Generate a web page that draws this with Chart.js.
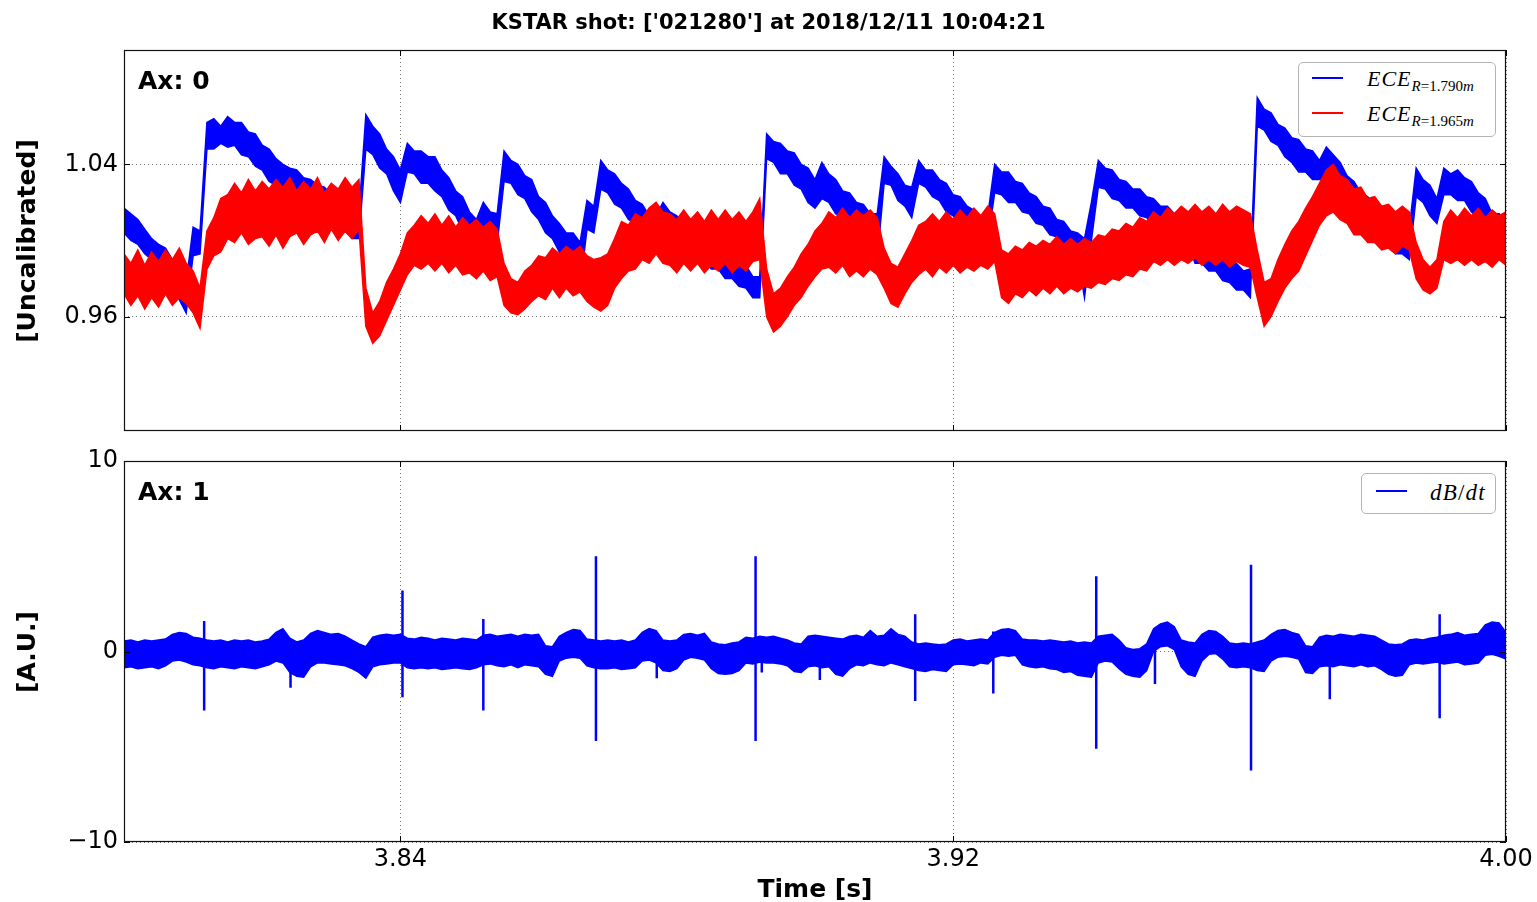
<!DOCTYPE html>
<html>
<head>
<meta charset="utf-8">
<script src="https://cdn.jsdelivr.net/npm/chart.js@4.4.1/dist/chart.umd.min.js"></script>
<style>
html,body{margin:0;padding:0;background:#fff;}
#wrap{position:relative;width:1537px;height:902px;overflow:hidden;background:#fff;}
canvas{position:absolute;left:0;top:0;}
.t{position:absolute;white-space:nowrap;color:#000;font-family:'DejaVu Sans',sans-serif;}
.b{font-weight:bold;}
.m{font-family:'Liberation Serif',serif;font-style:italic;}
.box{position:absolute;box-sizing:border-box;background:#fff;border:1px solid #b4b4b4;border-radius:5px;}
.ln{position:absolute;height:2px;}
</style>
</head>
<body>
<div id="wrap">
<canvas id="c1" width="1537" height="902"></canvas>
<canvas id="c2" width="1537" height="902"></canvas>

<div class="t b" style="left:0;width:1537px;text-align:center;top:12.2px;font-size:21px;line-height:21px;">KSTAR shot: ['021280'] at 2018/12/11 10:04:21</div>
<div class="t b" style="left:138px;top:68.4px;font-size:25px;line-height:25px;">Ax: 0</div>
<div class="t b" style="left:138px;top:478.9px;font-size:25px;line-height:25px;">Ax: 1</div>
<div class="t b" style="left:26.4px;top:240.5px;font-size:25px;line-height:25px;transform:translate(-50%,-50%) rotate(-90deg);">[Uncalibrated]</div>
<div class="t b" style="left:26.4px;top:651.5px;font-size:25px;line-height:25px;transform:translate(-50%,-50%) rotate(-90deg);">[A.U.]</div>
<div class="t b" style="left:815px;top:875.9px;font-size:25px;line-height:25px;transform:translateX(-50%);">Time [s]</div>

<div class="box" style="left:1298px;top:62px;width:198px;height:75px;"></div>
<div class="ln" id="lg0" style="left:1312px;top:77px;width:31px;"></div>
<div class="ln" id="lg1" style="left:1312px;top:112px;width:31px;"></div>
<div class="t m" id="lt0" style="left:1367px;top:68.3px;font-size:22px;line-height:22px;letter-spacing:1px;"></div>
<div class="t m" id="lt1" style="left:1367px;top:103.3px;font-size:22px;line-height:22px;letter-spacing:1px;"></div>

<div class="box" style="left:1361px;top:473px;width:135px;height:41px;"></div>
<div class="ln" id="lg2" style="left:1376px;top:490px;width:31px;"></div>
<div class="t m" id="lt2" style="left:1430px;top:480.7px;font-size:23px;line-height:23px;letter-spacing:1.2px;"></div>
</div>

<script>
// ---------------- data ----------------
const timeStartMs = 3800;          // first sample, ms
const sampleStepMs = 1;            // envelope samples every 1 ms

const xTicks = [3.84, 3.92, 4.00];
const xTickLabels = ['3.84', '3.92', '4.00'];
const yTopTicks = [0.96, 1.04];
const yTopTickLabels = ['0.96', '1.04'];
const yBottomTicks = [-10, 0, 10];
const yBottomTickLabels = ['\u221210', '0', '10'];

const seriesColors = ['#0000ff', '#ff0000', '#0000ff'];
const seriesRadius = ['1.790', '1.965'];

// ECE R=1.790 m : upper / lower edge of the noisy trace
const eceInnerHi = [
1.017,1.014,1.011,1.006,1.001,0.998,0.996,0.990,0.984,0.978,
1.007,1.005,1.062,1.064,1.060,1.065,1.062,1.062,1.057,1.056,
1.050,1.048,1.043,1.040,1.038,1.037,1.033,1.032,1.029,1.028,
1.024,1.022,1.018,1.018,1.014,1.066,1.060,1.056,1.048,1.044,
1.037,1.051,1.047,1.047,1.044,1.044,1.037,1.033,1.026,1.023,
1.015,1.011,1.020,1.015,1.014,1.047,1.042,1.040,1.034,1.032,
1.023,1.020,1.013,1.009,1.004,1.004,0.999,1.021,1.018,1.042,
1.037,1.035,1.030,1.027,1.021,1.019,1.013,1.013,1.020,1.015,
1.013,1.008,1.008,1.004,1.004,1.000,0.999,0.994,0.994,0.989,
0.987,0.981,0.981,1.056,1.052,1.051,1.047,1.046,1.040,1.038,
1.032,1.041,1.035,1.032,1.026,1.025,1.020,1.019,1.014,1.014,
1.044,1.039,1.035,1.029,1.028,1.042,1.037,1.037,1.032,1.030,
1.024,1.023,1.018,1.016,1.012,1.013,1.040,1.036,1.036,1.031,
1.030,1.025,1.023,1.018,1.017,1.011,1.010,1.005,1.004,1.001,
1.020,1.042,1.038,1.037,1.032,1.031,1.027,1.027,1.023,1.022,
1.018,1.018,1.014,1.017,1.013,1.004,1.000,1.000,0.995,0.994,
0.989,0.988,0.984,0.985,1.075,1.069,1.067,1.061,1.059,1.054,
1.053,1.048,1.047,1.042,1.049,1.045,1.041,1.034,1.031,1.025,
1.023,1.017,1.015,1.009,1.009,1.005,1.006,1.038,1.032,1.029,
1.022,1.038,1.035,1.037,1.033,1.031,1.025,1.022,1.014,1.014,
1.010];
const eceInnerLo = [
1.004,1.000,0.998,0.993,0.990,0.985,0.984,0.975,0.969,0.962,
0.992,0.993,1.048,1.048,1.051,1.049,1.050,1.045,1.044,1.039,
1.037,1.031,1.029,1.025,1.025,1.021,1.021,1.016,1.015,1.011,
1.010,1.005,1.005,1.001,1.001,1.048,1.045,1.038,1.035,1.026,
1.020,1.036,1.035,1.030,1.030,1.026,1.023,1.016,1.013,1.005,
1.001,0.996,1.003,0.999,0.998,1.031,1.030,1.024,1.022,1.015,
1.011,1.004,1.001,0.994,0.992,0.988,0.975,1.006,1.004,1.027,
1.025,1.019,1.017,1.011,1.009,1.003,1.002,0.998,1.006,1.002,
1.000,0.995,0.994,0.989,0.989,0.985,0.985,0.980,0.980,0.976,
0.975,0.970,0.970,1.043,1.041,1.035,1.035,1.029,1.027,1.020,
1.017,1.022,1.020,1.014,1.013,1.008,1.008,1.003,1.003,0.990,
1.030,1.029,1.021,1.018,1.012,1.030,1.028,1.023,1.021,1.015,
1.013,1.008,1.007,1.002,1.002,0.999,1.025,1.024,1.020,1.020,
1.015,1.014,1.009,1.008,1.003,1.002,0.997,0.996,0.992,0.970,
1.000,1.028,1.027,1.022,1.021,1.017,1.017,1.013,1.012,1.007,
1.006,1.002,1.003,0.999,0.998,0.988,0.988,0.984,0.984,0.979,
0.978,0.974,0.974,0.970,1.060,1.058,1.052,1.050,1.044,1.041,
1.036,1.036,1.032,1.032,1.033,1.031,1.022,1.018,1.011,1.010,
1.005,1.003,0.998,0.997,0.993,0.993,0.990,1.023,1.020,1.013,
1.009,1.024,1.024,1.021,1.021,1.015,1.012,1.005,1.003,0.999,
1.000];

// ECE R=1.965 m : upper / lower edge of the noisy trace
const eceOuterHi = [
0.993,0.988,0.995,0.987,0.994,0.989,0.995,0.990,0.996,0.988,
0.984,0.975,1.005,1.012,1.022,1.024,1.030,1.025,1.032,1.026,
1.031,1.027,1.032,1.028,1.033,1.026,1.031,1.027,1.033,1.025,
1.030,1.027,1.033,1.028,1.032,0.975,0.962,0.968,0.978,0.985,
0.993,1.004,1.008,1.013,1.009,1.014,1.008,1.013,1.007,1.012,
1.008,1.011,1.007,1.010,1.006,0.988,0.980,0.978,0.984,0.987,
0.992,0.991,0.996,0.993,0.997,0.994,0.997,0.992,0.990,0.991,
0.993,1.001,1.010,1.008,1.014,1.012,1.017,1.020,1.015,1.014,
1.011,1.016,1.011,1.015,1.010,1.016,1.011,1.016,1.011,1.015,
1.010,1.015,1.022,0.985,0.972,0.975,0.981,0.986,0.993,0.998,
1.005,1.009,1.015,1.012,1.017,1.012,1.016,1.013,1.016,1.012,
0.996,0.988,0.986,0.993,1.000,1.008,1.010,1.014,1.010,1.015,
1.011,1.016,1.012,1.017,1.013,1.018,1.014,0.995,0.993,0.997,
0.995,0.999,0.997,1.000,0.998,1.002,0.998,1.001,0.998,1.001,
0.999,1.003,1.002,1.006,1.005,1.009,1.007,1.012,1.010,1.015,
1.012,1.017,1.014,1.018,1.015,1.019,1.015,1.018,1.014,1.019,
1.015,1.018,1.016,1.014,0.995,0.978,0.980,0.990,0.998,1.005,
1.010,1.017,1.023,1.030,1.037,1.040,1.034,1.032,1.027,1.028,
1.022,1.023,1.018,1.019,1.015,1.018,1.015,0.999,0.990,0.986,
0.990,1.010,1.016,1.012,1.017,1.013,1.017,1.012,1.016,1.013,
1.015];
const eceOuterLo = [
0.972,0.966,0.971,0.964,0.970,0.965,0.972,0.966,0.970,0.967,
0.962,0.954,0.985,0.992,0.994,1.001,0.999,1.004,0.998,1.001,
1.002,0.997,1.003,0.996,1.002,1.004,0.998,1.003,1.005,0.999,
1.006,1.000,1.005,1.001,1.006,0.955,0.946,0.950,0.958,0.966,
0.974,0.982,0.987,0.985,0.988,0.984,0.988,0.983,0.987,0.982,
0.983,0.980,0.984,0.979,0.981,0.966,0.962,0.961,0.964,0.968,
0.971,0.969,0.975,0.970,0.975,0.971,0.973,0.968,0.965,0.963,
0.966,0.975,0.980,0.984,0.985,0.990,0.988,0.993,0.988,0.987,
0.983,0.988,0.984,0.988,0.983,0.987,0.984,0.988,0.983,0.987,
0.984,0.989,0.990,0.960,0.952,0.955,0.960,0.966,0.970,0.976,
0.981,0.985,0.986,0.983,0.987,0.981,0.984,0.981,0.985,0.982,
0.975,0.967,0.965,0.972,0.978,0.982,0.985,0.981,0.986,0.983,
0.987,0.983,0.986,0.984,0.987,0.985,0.989,0.970,0.967,0.972,
0.970,0.974,0.971,0.975,0.972,0.976,0.972,0.975,0.973,0.976,
0.975,0.978,0.977,0.980,0.979,0.982,0.981,0.985,0.984,0.989,
0.987,0.990,0.987,0.990,0.988,0.991,0.987,0.990,0.987,0.990,
0.986,0.989,0.987,0.986,0.970,0.955,0.960,0.968,0.975,0.980,
0.984,0.992,1.000,1.008,1.013,1.015,1.011,1.009,1.003,1.003,
0.999,0.999,0.995,0.996,0.993,0.997,0.995,0.980,0.974,0.972,
0.975,0.990,0.988,0.990,0.987,0.990,0.987,0.989,0.986,0.990,
0.987];

// dB/dt : upper / lower edge of the noisy trace
const dbdtHi = [
0.55,0.60,0.50,0.60,0.55,0.60,0.65,0.90,1.00,0.95,
0.75,0.70,0.60,0.55,0.60,0.50,0.60,0.55,0.60,0.50,
0.55,0.65,1.00,1.20,0.70,0.50,0.60,0.95,1.10,1.00,
0.90,0.95,0.80,0.60,0.40,0.25,0.75,0.85,0.90,0.85,
0.90,0.70,0.65,0.75,0.70,0.60,0.70,0.65,0.60,0.70,
0.65,0.60,0.85,0.90,0.80,0.85,0.90,0.80,0.90,0.85,
0.90,0.30,0.25,0.80,1.00,1.15,1.10,0.65,0.60,0.55,
0.60,0.55,0.60,0.50,0.60,1.00,1.20,1.10,0.60,0.55,
0.60,0.90,0.95,0.85,0.95,0.50,0.40,0.35,0.45,0.50,
0.75,0.70,0.80,0.75,0.80,0.70,0.60,0.45,0.40,0.80,
0.85,0.80,0.75,0.70,0.65,0.80,0.85,0.75,1.10,0.80,
0.85,1.20,0.90,0.80,0.50,0.40,0.45,0.40,0.35,0.40,
0.60,0.65,0.55,0.60,0.65,0.60,1.00,1.15,1.20,1.10,
0.65,0.60,0.60,0.55,0.60,0.55,0.50,0.55,0.45,0.50,
0.45,0.80,0.85,0.90,0.60,0.20,0.10,0.15,0.40,1.20,
1.45,1.55,1.30,0.60,0.50,0.45,0.90,1.10,1.05,0.80,
0.45,0.40,0.45,0.40,0.50,0.60,0.90,1.10,1.15,1.00,
0.90,0.30,0.25,0.75,0.85,0.80,0.90,0.85,0.80,0.90,
0.85,0.80,0.60,0.40,0.35,0.40,0.60,0.65,0.60,0.70,
0.75,0.85,0.90,1.00,0.85,0.90,0.95,1.40,1.55,1.50,
1.00];
const dbdtLo = [
-0.85,-0.80,-0.90,-0.85,-0.80,-0.90,-0.75,-0.50,-0.45,-0.55,
-0.70,-0.75,-0.85,-0.90,-0.80,-0.85,-0.90,-0.80,-0.85,-0.90,
-0.80,-0.70,-0.50,-0.60,-1.10,-1.30,-1.35,-0.80,-0.60,-0.60,
-0.65,-0.70,-0.75,-0.90,-1.10,-1.40,-0.80,-0.70,-0.65,-0.60,
-0.60,-0.85,-0.90,-0.85,-0.90,-0.85,-0.95,-0.90,-0.85,-0.90,
-0.95,-0.85,-0.70,-0.65,-0.75,-0.80,-0.70,-0.85,-0.70,-0.75,
-0.80,-1.20,-1.30,-0.50,-0.35,-0.30,-0.35,-0.75,-0.85,-0.90,
-0.90,-0.85,-0.95,-0.90,-0.85,-0.50,-0.45,-0.60,-1.00,-1.05,
-0.90,-0.45,-0.30,-0.35,-0.45,-0.90,-1.15,-1.20,-1.15,-1.00,
-0.60,-0.65,-0.55,-0.60,-0.60,-0.65,-0.75,-1.05,-1.10,-0.80,
-0.75,-0.85,-0.80,-1.20,-1.30,-0.90,-0.70,-0.75,-0.60,-0.70,
-0.75,-0.60,-0.70,-0.80,-0.90,-1.00,-1.05,-0.95,-1.00,-1.05,
-0.70,-0.65,-0.70,-0.75,-0.60,-0.65,-0.30,-0.20,-0.25,-0.20,
-0.70,-0.80,-0.85,-0.80,-0.90,-0.95,-1.10,-1.05,-1.25,-1.30,
-1.35,-0.60,-0.50,-0.55,-0.90,-1.20,-1.30,-1.35,-1.00,0.00,
0.25,0.30,0.10,-0.80,-1.20,-1.30,-0.50,-0.15,-0.10,-0.40,
-0.80,-0.85,-0.80,-0.85,-1.00,-1.05,-0.50,-0.30,-0.25,-0.30,
-0.40,-1.10,-1.15,-0.80,-0.75,-0.80,-0.70,-0.75,-0.80,-0.70,
-0.80,-0.75,-0.95,-1.20,-1.30,-1.25,-0.70,-0.60,-0.65,-0.60,
-0.55,-0.65,-0.60,-0.55,-0.70,-0.65,-0.60,-0.20,-0.15,-0.25,
-0.40];

// single-sample spikes of dB/dt (time s, top, bottom)
const spikeTimes  = [3.8116,3.8241,3.8403,3.8520,3.8683,3.8771,3.8914,3.8923,3.9007,3.9145,3.9258,3.9407,3.9492,3.9631,3.9745,3.9904];
const spikeTop    = [1.6,0.5,3.2,1.7,5.0,0.9,5.0,0.6,0.6,1.95,1.05,3.95,0.6,4.55,0.6,1.95];
const spikeBottom = [-3.1,-1.9,-2.4,-3.1,-4.7,-1.4,-4.7,-1.1,-1.5,-2.6,-2.2,-5.1,-1.7,-6.25,-2.5,-3.5];

// ---------------- build ----------------
const sampleTimes = eceInnerHi.map((_, i) => (timeStartMs + i * sampleStepMs) / 1000);
const pts = vals => vals.map((v, i) => ({x: sampleTimes[i], y: v}));
const spikePts = [];
spikeTimes.forEach((t, k) => {
  spikePts.push({x: t, y: spikeTop[k]}, {x: t, y: spikeBottom[k]}, {x: t, y: null});
});

Chart.defaults.font.family = "'DejaVu Sans', sans-serif";
Chart.defaults.font.size = 24;
Chart.defaults.color = '#000';

const framePlugin = {
  id: 'frame',
  afterDraw(chart) {
    const {ctx, chartArea: a, scales} = chart;
    const L = 6;
    ctx.save();
    ctx.strokeStyle = '#000';
    ctx.lineWidth = 1;
    ctx.beginPath();
    scales.x.ticks.forEach(t => {
      const p = Math.round(scales.x.getPixelForValue(t.value)) + 0.5;
      ctx.moveTo(p, a.bottom); ctx.lineTo(p, a.bottom - L);
      ctx.moveTo(p, a.top); ctx.lineTo(p, a.top + L);
    });
    scales.y.ticks.forEach(t => {
      const p = Math.round(scales.y.getPixelForValue(t.value)) + 0.5;
      ctx.moveTo(a.left, p); ctx.lineTo(a.left + L, p);
      ctx.moveTo(a.right, p); ctx.lineTo(a.right - L, p);
    });
    ctx.stroke();
    ctx.lineWidth = 1.2;
    ctx.strokeStyle = '#111';
    ctx.strokeRect(a.left + 0.5, a.top + 0.5, a.right - a.left - 1, a.bottom - a.top - 1);
    ctx.restore();
  }
};

function xScale(showLabels, height) {
  return {
    type: 'linear', min: 3.80, max: 4.00,
    afterBuildTicks: s => { s.ticks = xTicks.map(v => ({value: v})); },
    afterFit: s => { s.height = height; },
    ticks: {display: showLabels, padding: 3, maxRotation: 0, autoSkip: false,
            callback: (v, i) => xTickLabels[i]},
    grid: {color: 'rgba(0,0,0,0.55)', lineWidth: 1, drawTicks: false},
    border: {display: false, dash: [1, 3]}
  };
}
function yScale(min, max, ticks, labels) {
  return {
    type: 'linear', min: min, max: max,
    afterBuildTicks: s => { s.ticks = ticks.map(v => ({value: v})); },
    afterFit: s => { s.width = 124; },
    ticks: {padding: 6, autoSkip: false, callback: (v, i) => labels[i]},
    grid: {color: 'rgba(0,0,0,0.55)', lineWidth: 1, drawTicks: false},
    border: {display: false, dash: [1, 3]}
  };
}
const lineDs = (label, data, color, fill, width) => ({
  label: label, data: data, borderColor: color, backgroundColor: color,
  borderWidth: width, pointRadius: 0, pointHoverRadius: 0, tension: 0,
  fill: fill, spanGaps: false
});
const common = {
  responsive: false, animation: false, devicePixelRatio: 1, events: [],
  plugins: {legend: {display: false}, tooltip: {enabled: false}}
};

new Chart(document.getElementById('c1'), {
  type: 'line',
  data: {datasets: [
    lineDs('ECE R=' + seriesRadius[1] + 'm', pts(eceOuterHi), seriesColors[1], false, 1.5),
    lineDs('ECE R=' + seriesRadius[1] + 'm (low)', pts(eceOuterLo), seriesColors[1], '-1', 1.5),
    lineDs('ECE R=' + seriesRadius[0] + 'm', pts(eceInnerHi), seriesColors[0], false, 1.5),
    lineDs('ECE R=' + seriesRadius[0] + 'm (low)', pts(eceInnerLo), seriesColors[0], '-1', 1.5)
  ]},
  options: Object.assign({}, common, {
    layout: {padding: {top: 50, bottom: 471, left: 0, right: 31}},
    scales: {x: xScale(false, 0), y: yScale(0.90, 1.10, yTopTicks, yTopTickLabels)}
  }),
  plugins: [framePlugin]
});

new Chart(document.getElementById('c2'), {
  type: 'line',
  data: {datasets: [
    lineDs('dB/dt spikes', spikePts, seriesColors[2], false, 2.5),
    lineDs('dB/dt', pts(dbdtHi), seriesColors[2], false, 1.5),
    lineDs('dB/dt (low)', pts(dbdtLo), seriesColors[2], '-1', 1.5)
  ]},
  options: Object.assign({}, common, {
    layout: {padding: {top: 461, bottom: 20, left: 0, right: 31}},
    scales: {x: xScale(true, 40), y: yScale(-10, 10, yBottomTicks, yBottomTickLabels)}
  }),
  plugins: [framePlugin]
});

// legends
document.getElementById('lg0').style.background = seriesColors[0];
document.getElementById('lg1').style.background = seriesColors[1];
document.getElementById('lg2').style.background = seriesColors[2];
const sub = r => '<span style="font-size:15px;position:relative;top:5px;letter-spacing:0;"><i>R</i><span style="font-style:normal">=' + r + '</span><i>m</i></span>';
document.getElementById('lt0').innerHTML = 'ECE' + sub(seriesRadius[0]);
document.getElementById('lt1').innerHTML = 'ECE' + sub(seriesRadius[1]);
document.getElementById('lt2').innerHTML = 'dB<span style="font-style:normal">/</span>dt';
</script>
</body>
</html>
